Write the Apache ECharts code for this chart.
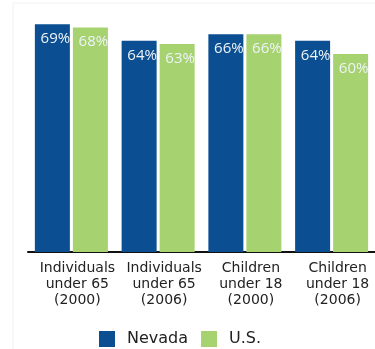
<!DOCTYPE html>
<html>
<head>
<meta charset="utf-8">
<script src="https://cdn.jsdelivr.net/npm/echarts@6/dist/echarts.min.js"></script>
<style>
  html, body { margin: 0; padding: 0; background: #fff; }
  #chart { width: 375px; height: 349px; }
</style>
</head>
<body>
<div id="chart"></div>
<script>
// Health insurance coverage shares, Nevada vs. U.S.
const categories = [
  'Individuals\nunder 65\n(2000)',
  'Individuals\nunder 65\n(2006)',
  'Children\nunder 18\n(2000)',
  'Children\nunder 18\n(2006)'
];
const nevadaValues = [69, 64, 66, 64];
const usValues = [68, 63, 66, 60];

const BLUE = '#0b4f92';
const GREEN = '#a6d26f';

const chart = echarts.init(document.getElementById('chart'));

const valueLabel = {
  show: true,
  position: 'insideTop',
  distance: 7,
  offset: [3, 0],
  formatter: '{c}%',
  color: '#eef3f7',
  fontFamily: 'Open Sans',
  fontSize: 15
};

chart.setOption({
  animation: false,
  graphic: [{
    type: 'rect',
    shape: { x: 13, y: 3, width: 370, height: 360 },
    style: { fill: 'none', stroke: '#f1f1f1', lineWidth: 1 },
    silent: true,
    z: -1
  }],
  grid: { left: 28, right: 0, top: 21, bottom: 97 },
  legend: {
    left: 99,
    top: 331,
    padding: 0,
    itemWidth: 16,
    itemHeight: 16,
    itemGap: 13,
    icon: 'rect',
    textStyle: {
      fontFamily: 'DejaVu Sans',
      fontSize: 16,
      color: '#222',
      padding: [0, 0, 0, 7]
    },
    data: ['Nevada', 'U.S.']
  },
  xAxis: {
    type: 'category',
    data: categories,
    axisLine: { lineStyle: { color: '#111', width: 2 } },
    axisTick: { show: false },
    axisLabel: {
      interval: 0,
      margin: 8,
      padding: [0, 0, 0, 12],
      fontFamily: 'DejaVu Sans',
      fontSize: 14,
      lineHeight: 16,
      color: '#222'
    }
  },
  yAxis: {
    type: 'value',
    min: 0,
    max: 70,
    show: false,
    splitLine: { show: false }
  },
  series: [
    {
      name: 'Nevada',
      type: 'bar',
      data: nevadaValues,
      barWidth: 35,
      barGap: '8.6%',
      itemStyle: { color: BLUE },
      label: valueLabel
    },
    {
      name: 'U.S.',
      type: 'bar',
      data: usValues,
      barWidth: 35,
      itemStyle: { color: GREEN },
      label: valueLabel
    }
  ]
});
</script>
</body>
</html>
